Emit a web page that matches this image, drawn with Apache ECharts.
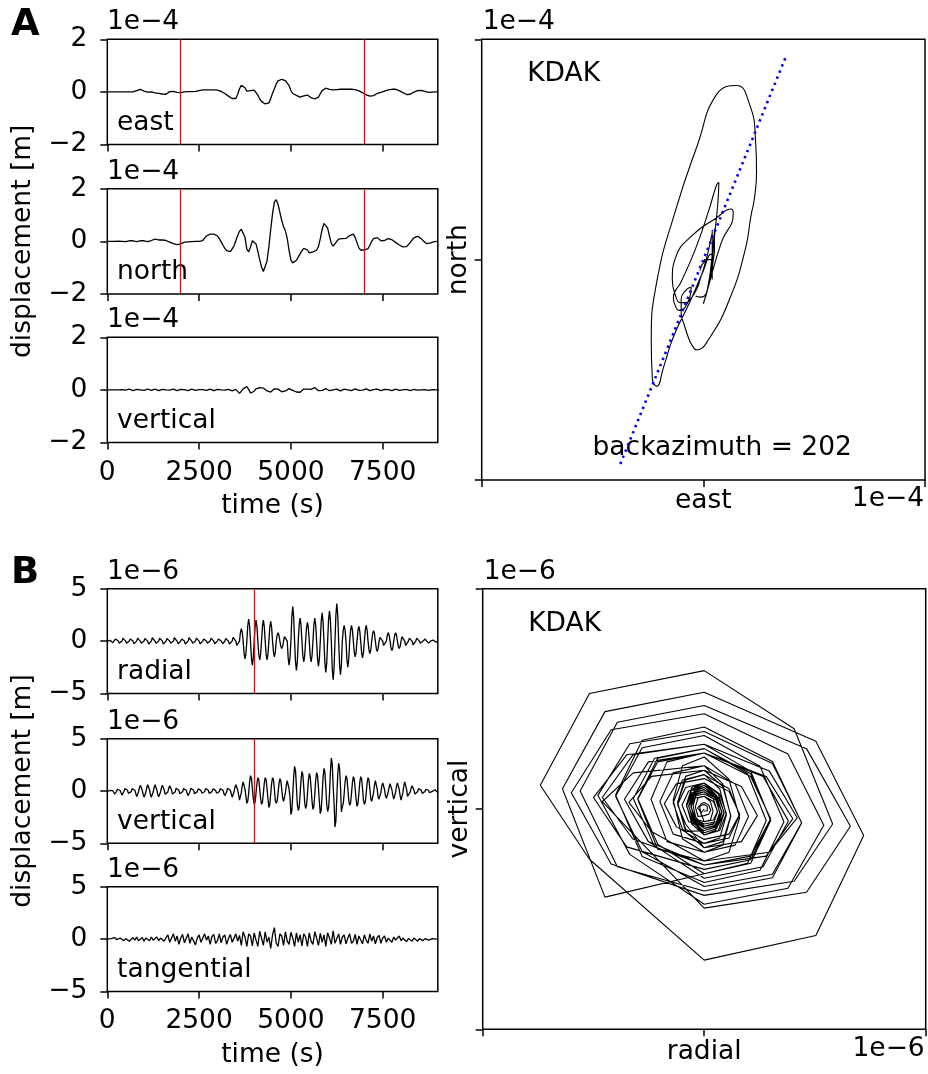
<!DOCTYPE html>
<html>
<head>
<meta charset="utf-8">
<script src="https://cdn.jsdelivr.net/npm/echarts@6.0.0/dist/echarts.min.js"></script>
<style>
html,body{margin:0;padding:0;background:#ffffff;}
#chart{width:928px;height:1074px;}
</style>
</head>
<body>
<div id="chart"></div>
<script>
// ================= DATA =================
const timeTicks = [0, 2500, 5000, 7500];
const timeMax = 9000;
const dtA = 50;      // sampling of panel A traces (s)
const dtB = 25;      // sampling of radial / vertical traces in B (s)
const dtTang = 50;   // sampling of tangential trace (s)
const scaleA = '1e\u22124';
const scaleB = '1e\u22126';
const yTicksA = [-2, 0, 2];
const yTicksB = [-5, 0, 5];
const pickWindowA = [2000, 7000];
const pickLineB = [4000];
const backazimuth = 202;
const station = 'KDAK';
const namesA = ['east', 'north', 'vertical'];
const namesB = ['radial', 'vertical', 'tangential'];

// panel A displacement (units of 1e-4 m), every 50 s from 0 to 9000 s
const eastA = [
0,0,0,0,0,0,0,0,0,0,0,
0,0,0,0,0,.05,.1,.1,.07,.03,
0,-.01,-.01,0,-.02,-.04,-.05,-.06,-.07,-.08,
-.09,-.09,-.05,.01,.03,.02,0,-.02,-.03,-.03,
-.02,0,.01,.01,.01,.01,.01,.02,.03,.05,
.07,.08,.08,.08,.08,.08,.08,.08,.08,.07,
.05,.02,-.02,-.06,-.11,-.16,-.21,-.25,-.28,-.25,
-.1,.12,.25,.27,.16,.03,0,.05,.08,.07,
0,-.12,-.27,-.36,-.42,-.46,-.47,-.42,-.25,-.05,
.12,.3,.42,.47,.48,.46,.43,.38,.24,.05,
-.06,-.1,-.13,-.17,-.2,-.2,-.15,-.11,-.12,-.17,
-.22,-.26,-.27,-.27,-.2,-.07,.05,.12,.14,.13,
.1,.08,.08,.08,.09,.1,.1,.1,.1,.1,
.1,.1,.1,.1,.09,.07,.04,.01,-.03,-.07,
-.11,-.14,-.16,-.16,-.14,-.1,-.06,-.04,-.02,0,
.03,.06,.08,.09,.1,.1,.1,.08,.05,.01,
-.03,-.07,-.1,-.11,-.09,-.05,-.01,.02,.05,.06,
.06,.04,.02,0,-.02,-.02,-.01,0,0,0];

const northA = [
0,0,0,0,0,0,.01,.01,0,-.01,-.01,
0,.02,.03,.02,0,-.01,0,.02,.03,.02,
0,-.01,0,.03,.06,.08,.07,.05,.04,.05,
.05,.03,0,-.03,-.06,-.09,-.12,-.13,-.13,-.1,
-.06,-.03,-.02,-.02,-.01,-.01,0,0,0,0,
0,.03,.12,.2,.25,.27,.27,.27,.25,.2,
.1,-.02,-.15,-.27,-.35,-.39,-.39,-.33,-.18,.02,
.22,.38,.46,.42,.15,-.3,-.4,-.22,.02,.05,
-.1,-.38,-.7,-.98,-1.15,-1.08,-.75,-.2,.45,1.05,
1.5,1.58,1.4,1.1,.8,.55,.4,.1,-.35,-.72,
-.82,-.78,-.72,-.6,-.48,-.36,-.27,-.25,-.33,-.44,
-.46,-.4,-.35,-.34,-.2,.1,.45,.68,.7,.5,
.2,-.08,-.18,-.12,0,.08,.1,.1,.11,.11,
.15,.22,.28,.27,.15,-.05,-.25,-.33,-.34,-.33,
-.32,-.28,-.15,0,.1,.14,.14,.08,.02,0,
.03,.07,.1,.1,.06,.01,-.04,-.09,-.14,-.18,
-.21,-.22,-.2,-.14,-.05,.05,.13,.18,.19,.17,
.1,.02,-.05,-.09,-.09,-.06,-.03,-.01,0,0];

const verticalA = [
0,0,0,.01,0,-.01,0,.02,.01,-.02,-.01,.02,.03,0,-.03,-.02,.02,.03,0,-.03,-.02,
.02,.03,0,-.02,.01,.03,.01,-.03,-.02,.02,.03,0,-.02,-.01,.02,.03,0,-.03,-.01,.02,
.03,.01,-.02,-.03,.01,.03,.02,-.02,-.03,.01,.03,.01,-.02,-.02,.02,.03,0,-.03,-.02,.02,
.03,0,-.03,-.01,.03,.02,-.02,-.04,-.01,.02,
-.05,-.13,-.06,.04,.1,.13,.02,-.12,-.16,-.05,
.04,.08,.09,.09,.07,.03,-.04,-.1,-.08,-.02,
.04,.06,.03,-.03,-.07,-.08,-.04,.02,.05,.03,
-.02,-.05,-.08,-.1,-.09,-.03,.03,.06,.03,-.03,.02,.07,.09,.05,-.03,-.06,-.02,.04,.05,.01,
-.03,-.04,0,.04,.03,-.02,-.04,-.01,.03,.04,0,-.03,-.03,.01,.04,.02,-.02,-.04,-.01,.03,
.04,.01,-.03,-.03,.01,.03,.03,0,-.03,-.02,.02,.03,.01,-.02,-.03,0,.03,.02,-.02,-.03,
0,.03,.02,-.02,-.03,0,.02,.02,-.01,-.02,0,.02,.01,-.01,-.02,0,.01,.01,0,0,0];

// panel B displacement (units of 1e-6 m), every 25 s from 0 to 9000 s
const radialB = [
0,.07,.1,.07,0,-.1,-.15,-.1,
0,.21,.3,.21,0,-.21,-.3,-.21,
0,.28,.4,.28,0,-.21,-.3,-.21,
0,.21,.3,.21,0,-.25,-.35,-.25,
0,.28,.4,.28,0,-.21,-.3,-.21,
0,.25,.35,.25,0,-.28,-.4,-.28,
0,.32,.45,.32,0,-.21,-.3,-.21,
0,.28,.4,.28,0,-.28,-.4,-.28,
0,.25,.35,.25,0,-.21,-.3,-.21,
0,.32,.45,.32,0,-.25,-.35,-.25,
0,.21,.3,.21,0,-.28,-.4,-.28,
0,.32,.45,.32,0,-.21,-.3,-.21,
0,.28,.4,.28,0,-.25,-.35,-.25,
0,.21,.3,.21,0,-.21,-.3,-.21,
0,.28,.4,.28,0,-.25,-.35,-.25,
0,.21,.3,.21,0,-.18,-.25,-.18,
0,.25,.35,.25,0,-.28,-.4,-.28,
0,.35,.5,.35,0,-.42,-.6,-.42,
0,.84,1.2,.84,0,-1.19,-1.7,-1.19,
0,1.47,2.1,1.47,0,-1.61,-2.3,-1.61,
0,1.4,2,1.4,0,-1.26,-1.8,-1.26,
0,1.4,2,1.4,0,-1.26,-1.8,-1.26,
0,1.33,1.9,1.33,0,-1.05,-1.5,-1.05,
0,.56,.8,.56,0,-.49,-.7,-.49,
0,.42,.6,.42,0,-1.6,-2.3,-1.6,
0,2.31,3.3,2.31,0,-1.96,-2.8,-1.96,
0,1.54,2.2,1.54,0,-1.4,-2,-1.4,
0,1.26,1.8,1.26,0,-1.4,-2,-1.4,
0,1.54,2.2,1.54,0,-1.68,-2.4,-1.68,
0,1.89,2.7,1.89,0,-2.1,-3,-2.1,
0,2.03,2.9,2.03,0,-2.59,-3.7,-2.59,
0,2.52,3.6,2.52,0,-2.24,-3.2,-2.24,
0,1.05,1.5,1.05,0,-1.75,-2.5,-1.75,
0,1.05,1.5,1.05,0,-1.05,-1.5,-1.05,
0,.98,1.4,.98,0,-1.12,-1.6,-1.12,
0,1.05,1.5,1.05,0,-.84,-1.2,-.84,
0,.7,1,.7,0,-.7,-1,-.7,
0,.35,.5,.35,0,-.42,-.6,-.42,
0,.56,.8,.56,0,-.63,-.9,-.63,
0,.56,.8,.56,0,-.49,-.7,-.49,
0,.42,.6,.42,0,-.42,-.6,-.42,
0,.28,.4,.28,0,-.35,-.5,-.35,
0,.28,.4,.28,0,-.21,-.3,-.21,
0,.14,.2,.14,0,-.14,-.2,-.14,
0,.1,.15,.1,0,-.07,-.1,-.07,
0];

const verticalB = [
-.05,-.04,-.01,.06,.1,.08,.02,-.03,
-.29,-.25,-.05,.17,.29,.25,.05,-.17,
-.39,-.33,-.07,.23,.39,.33,.07,-.23,
-.39,-.33,-.07,.23,.39,.33,.07,-.23,
-.54,-.45,-.09,.31,.54,.45,.09,-.31,
-.59,-.49,-.1,.34,.59,.49,.1,-.34,
-.59,-.49,-.1,.34,.59,.49,.1,-.34,
-.54,-.45,-.09,.31,.54,.45,.09,-.31,
-.49,-.41,-.09,.29,.49,.41,.09,-.29,
-.44,-.37,-.08,.26,.44,.37,.08,-.26,
-.39,-.33,-.07,.23,.39,.33,.07,-.23,
-.44,-.37,-.08,.26,.44,.37,.08,-.26,
-.34,-.29,-.06,.2,.34,.29,.06,-.2,
-.39,-.33,-.07,.23,.39,.33,.07,-.23,
-.34,-.29,-.06,.2,.34,.29,.06,-.2,
-.39,-.33,-.07,.23,.39,.33,.07,-.23,
-.44,-.37,-.08,.26,.44,.37,.08,-.26,
-.59,-.49,-.1,.34,.59,.49,.1,-.34,
-.88,-.74,-.15,.51,.88,.74,.15,-.51,
-1.18,-.98,-.2,.86,1.47,1.23,.26,-.68,
-1.27,-1.07,-.22,.74,1.27,1.07,.22,-.74,
-1.27,-1.07,-.22,.74,1.27,1.07,.22,-.74,
-1.57,-1.31,-.27,.74,1.27,1.07,.22,-.91,
-1.18,-.98,-.2,.68,1.18,.98,.2,-.68,
-.98,-.82,-.17,.57,.98,.82,.17,-.57,
-2.25,-1.89,-.39,1.37,2.35,1.97,.41,-1.31,
-1.86,-1.56,-.32,1.08,1.86,1.56,.32,-1.08,
-1.67,-1.39,-.29,.97,1.67,1.39,.29,-.97,
-1.76,-1.48,-.31,1.03,1.76,1.48,.31,-1.03,
-2.16,-1.8,-.37,1.25,2.16,1.8,.37,-1.25,
-1.96,-1.64,-.34,1.82,3.14,2.62,.54,-1.14,
-3.43,-2.87,-.6,1.54,2.65,2.21,.46,-2,
-1.47,-1.23,-.26,.86,1.47,1.23,.26,-.86,
-1.37,-1.15,-.24,.8,1.37,1.15,.24,-.8,
-1.47,-1.23,-.26,.8,1.37,1.15,.24,-.86,
-1.27,-1.07,-.22,.74,1.27,1.07,.22,-.74,
-.98,-.82,-.17,.57,.98,.82,.17,-.57,
-.78,-.66,-.14,.46,.78,.66,.14,-.46,
-.69,-.57,-.12,.4,.69,.57,.12,-.4,
-.78,-.66,-.14,.46,.78,.66,.14,-.46,
-.88,-.74,-.15,.51,.88,.74,.15,-.51,
-.49,-.41,-.09,.29,.49,.41,.09,-.29,
-.39,-.33,-.07,.23,.39,.33,.07,-.23,
-.29,-.25,-.05,.17,.29,.25,.05,-.17,
-.15,-.12,-.03,.09,.15,.12,.03,-.09,
0];

// tangential (units of 1e-6 m), every 50 s
const tangentialB = [
0,0,.05,-.1,.15,-.05,-.2,.1,.15,-.15,.05,.2,-.2,-.05,.15,-.1,.2,-.15,0,.15,-.2,.1,.05,-.15,.2,-.1,-.05,.2,-.15,.1,.05,-.2,.15,
.4,-.3,-.4,.5,-.2,.3,-.5,.1,.45,-.35,-.2,.5,-.4,.2,.35,-.55,.1,.4,-.3,-.45,.5,-.1,.3,-.5,.25,.45,-.4,-.15,.5,-.35,.2,.4,-.5,.05,.45,-.3,-.4,.5,-.2,.35,
-.6,.7,.2,-.7,.5,.3,-.65,.6,-.1,-.7,.75,.1,-.6,.7,-.3,.2,-.9,.4,1.1,-.4,
-.7,.5,.3,-.6,.7,-.2,-.5,.65,.1,-.7,.6,-.3,.4,-.65,.5,.2,-.7,.6,-.2,-.5,.7,.1,-.6,.55,-.3,.4,-.7,.6,.1,-.5,
.8,-.4,-.3,.5,-.5,.2,.4,-.45,.1,.5,-.4,-.2,.45,-.5,.3,.2,-.45,.4,-.1,-.4,.5,-.2,.3,-.45,.15,.35,-.4,.1,
.3,-.3,.1,.25,-.3,.2,-.1,-.25,.3,-.15,.1,.25,-.25,.05,.2,-.2,.1,.15,-.2,.05,.15,-.15,.05,.1,-.1,.05,.05,-.05,0,0];

// ================= LAYOUT / STYLE =================
const FONT = 'DejaVu Sans';
const FS = 26.5;
const BLACK = '#000000';
const traceLeft = 107.3, traceWidth = 330.5;
const topsA = [39.3, 188.7, 337.3], heightA = 105.2;
const topsB = [588.8, 738.7, 886.8], heightB = 104.6;
const pmRectA = {left: 481.7, top: 39.3, width: 443.3, height: 440.7};
const pmRectB = {left: 482.7, top: 588.7, width: 443, height: 440.6};

const fmtMinus = v => (v < 0 ? '\u2212' + Math.abs(v) : String(v));
const grids = [], xAxes = [], yAxes = [], series = [], graphics = [];

function txt(text, x, y, align, extra) {
  graphics.push({type: 'text', x: x, y: y, silent: true,
    style: Object.assign({text: text, fill: BLACK, font: FS + 'px "' + FONT + '"',
      fontSize: FS, fontFamily: FONT, align: align, verticalAlign: 'middle',
      textAlign: align, textVerticalAlign: 'middle'}, extra || {})});
}

function addTrace(top, height, values, dt, yTicks, markX, label, scaleText, showTime, yName, labelMargin) {
  const gi = grids.length;
  grids.push({left: traceLeft, top: top, width: traceWidth, height: height, show: true,
    borderColor: BLACK, borderWidth: 1.5, backgroundColor: 'transparent', containLabel: false, outerBoundsMode: 'none'});
  xAxes.push({type: 'value', gridIndex: gi, min: 0, max: timeMax, interval: 2500,
    axisLine: {show: false, onZero: false},
    axisTick: {show: true, length: 7, customValues: timeTicks, lineStyle: {color: BLACK, width: 1.5}},
    axisLabel: {show: showTime, customValues: timeTicks, margin: labelMargin, hideOverlap: false,
      formatter: v => String(v), fontSize: FS, fontFamily: FONT, color: BLACK},
    splitLine: {show: false},
    name: showTime ? 'time (s)' : '', nameLocation: 'middle', nameGap: 50,
    nameTextStyle: {fontSize: FS, fontFamily: FONT, color: BLACK}});
  yAxes.push({type: 'value', gridIndex: gi, min: yTicks[0], max: yTicks[2], interval: yTicks[2],
    axisLine: {show: false, onZero: false},
    axisTick: {show: true, length: 7, lineStyle: {color: BLACK, width: 1.5}},
    axisLabel: {show: true, margin: 20, formatter: fmtMinus, fontSize: FS, fontFamily: FONT, color: BLACK},
    splitLine: {show: false},
    name: yName || '', nameLocation: 'middle', nameGap: 71,
    nameTextStyle: {fontSize: FS, fontFamily: FONT, color: BLACK}});
  const s = {type: 'line', xAxisIndex: gi, yAxisIndex: gi, showSymbol: false, symbol: 'none',
    data: values.map((v, i) => [i * dt, v]),
    lineStyle: {color: BLACK, width: 1.3}, z: 3};
  if (markX.length) {
    s.markLine = {silent: true, symbol: ['none', 'none'], label: {show: false},
      lineStyle: {color: '#ff0000', width: 1.3, type: 'solid'},
      data: markX.map(x => ({xAxis: x}))};
  }
  series.push(s);
  txt(label, 117, top + height - 21.6, 'left');
  txt(scaleText, 107, top - 16.7, 'left');
}

function addParticle(rect, xName, yName, lim, pts, scaleText, smooth, xGap) {
  const gi = grids.length;
  grids.push(Object.assign({show: true, borderColor: BLACK, borderWidth: 1.5,
    backgroundColor: 'transparent', containLabel: false, outerBoundsMode: 'none'}, rect));
  xAxes.push({type: 'value', gridIndex: gi, min: -lim, max: lim, interval: lim,
    axisLine: {show: false, onZero: false},
    axisTick: {show: true, length: 7, lineStyle: {color: BLACK, width: 1.5}},
    axisLabel: {show: false}, splitLine: {show: false},
    name: xName, nameLocation: 'middle', nameGap: xGap,
    nameTextStyle: {fontSize: FS, fontFamily: FONT, color: BLACK}});
  yAxes.push({type: 'value', gridIndex: gi, min: -lim, max: lim, interval: lim,
    axisLine: {show: false, onZero: false},
    axisTick: {show: true, length: 7, lineStyle: {color: BLACK, width: 1.5}},
    axisLabel: {show: false}, splitLine: {show: false},
    name: yName, nameLocation: 'middle', nameGap: 9.5,
    nameTextStyle: {fontSize: FS, fontFamily: FONT, color: BLACK}});
  series.push({type: 'line', xAxisIndex: gi, yAxisIndex: gi, showSymbol: false, symbol: 'none',
    smooth: smooth, data: pts, lineStyle: {color: BLACK, width: 1.1}, z: 3});
  txt(scaleText, rect.left + 1, rect.top - 16.8, 'left');
  txt(scaleText, rect.left + rect.width - 1, rect.top + rect.height + 19.5, 'right');
  txt(station, rect.left + 45.5, rect.top + 35, 'left');
  return gi;
}

// ---- panel A traces (pick window shown on horizontal components)
const tracesA = [eastA, northA, verticalA];
tracesA.forEach((vals, k) => addTrace(topsA[k], heightA, vals, dtA, yTicksA, k < 2 ? pickWindowA : [], namesA[k], scaleA,
  k === 2, k === 1 ? 'displacement [m]' : '', 17));
// ---- panel A particle motion (samples within the pick window)
const pmA = [];
eastA.forEach((e, i) => { const t = i * dtA; if (t >= pickWindowA[0] && t <= pickWindowA[1]) pmA.push([e, northA[i]]); });
const giA = addParticle(pmRectA, 'east', 'north', yTicksA[2], pmA, scaleA, 0.5, 7.8);
const bz = backazimuth * Math.PI / 180;
const R = yTicksA[2];
series.push({type: 'line', xAxisIndex: giA, yAxisIndex: giA, showSymbol: false, symbol: 'none', z: 4,
  data: [[R * Math.sin(bz), R * Math.cos(bz)], [-R * Math.sin(bz), -R * Math.cos(bz)]],
  lineStyle: {color: '#0000ff', width: 2.6, type: [2.4, 4.2], cap: 'butt'}});
txt('backazimuth = ' + backazimuth, 592.5, 448.5, 'left');

// ---- panel B traces
const tracesB = [radialB, verticalB, tangentialB];
const dtsB = [dtB, dtB, dtTang];
tracesB.forEach((vals, k) => addTrace(topsB[k], heightB, vals, dtsB[k], yTicksB, k < 2 ? pickLineB : [], namesB[k], scaleB,
  k === 2, k === 1 ? 'displacement [m]' : '', 16.5));
// ---- panel B particle motion
const pmB = radialB.map((r, i) => [r, verticalB[i]]);
addParticle(pmRectB, 'radial', 'vertical', yTicksB[2], pmB, scaleB, false, 9.5);

// panel letters
txt('A', 11, 25, 'left', {font: 'bold 37px "' + FONT + '"', fontSize: 37, fontWeight: 'bold'});
txt('B', 11, 573, 'left', {font: 'bold 37px "' + FONT + '"', fontSize: 37, fontWeight: 'bold'});

const chart = echarts.init(document.getElementById('chart'), null, {renderer: 'canvas'});
chart.setOption({
  animation: false,
  backgroundColor: '#ffffff',
  textStyle: {fontFamily: FONT},
  grid: grids, xAxis: xAxes, yAxis: yAxes, series: series,
  graphic: {elements: graphics}
});
</script>
</body>
</html>
